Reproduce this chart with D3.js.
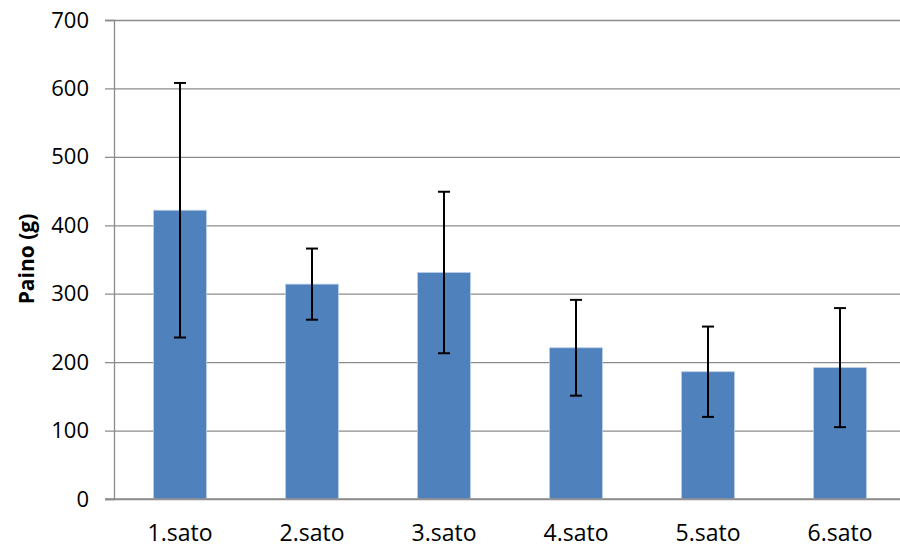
<!DOCTYPE html>
<html>
<head>
<meta charset="utf-8">
<script src="https://cdn.jsdelivr.net/npm/d3@7"></script>
<style>
  body { margin: 0; background: #fff; }
  svg text { font-family: "Open Sans", "Liberation Sans", sans-serif; fill: #000; }
</style>
</head>
<body>
<svg id="chart" width="900" height="548"></svg>
<script>
// data
const categories = ["1.sato", "2.sato", "3.sato", "4.sato", "5.sato", "6.sato"]
const means = [422, 314, 331, 221, 186, 192]
const errors = [186, 52, 118, 70, 66, 87]
const yTicks = [0, 100, 200, 300, 400, 500, 600, 700]

const margin = { left: 114, top: 20 }
const width = 792   // plot runs slightly past the right edge, like the original
const height = 479

const svg = d3.select('#chart')
const g = svg.append('g').attr('transform', 'translate(' + margin.left + ',' + margin.top + ')')

const x = d3.scaleBand().domain(categories).range([0, width]).paddingInner(0.6).paddingOuter(0.3)
const y = d3.scaleLinear().domain([0, 700]).range([height, 0])

// gridlines + y axis
const yAxis = d3.axisLeft(y).tickValues(yTicks).tickSize(9).tickPadding(16)
const yg = g.append('g').call(yAxis)
yg.select('.domain').attr('stroke', '#8c8c8c').attr('stroke-width', 1.3)
yg.selectAll('.tick line').attr('stroke', '#8c8c8c').attr('stroke-width', 1.3)
  .attr('x2', width).attr('x1', -9)
yg.selectAll('.tick text').attr('font-size', 22)

// bars
g.selectAll('rect.bar').data(means).enter().append('rect')
  .attr('class', 'bar')
  .attr('x', (d, i) => x(categories[i]))
  .attr('width', x.bandwidth())
  .attr('y', d => y(d))
  .attr('height', d => height - y(d))
  .attr('fill', '#4f81bd')
  .attr('stroke', '#b9cde5')
  .attr('stroke-width', 0.8)

// x axis line on top of bars
const xAxis = d3.axisBottom(x).tickSize(0).tickPadding(26)
const xg = g.append('g').attr('transform', 'translate(0,' + height + ')').call(xAxis)
xg.select('.domain').attr('stroke', '#8c8c8c').attr('stroke-width', 1.3)
  .attr('d', 'M-9,0H' + width)
xg.selectAll('.tick text').attr('font-size', 23)

// error bars
const eb = g.selectAll('g.err').data(means).enter().append('g').attr('class', 'err')
  .attr('transform', (d, i) => 'translate(' + (x(categories[i]) + x.bandwidth() / 2) + ',0)')
eb.append('line')
  .attr('y1', (d, i) => y(d + errors[i])).attr('y2', (d, i) => y(d - errors[i]))
  .attr('stroke', '#000').attr('stroke-width', 2)
eb.append('line')
  .attr('x1', -6).attr('x2', 6)
  .attr('y1', (d, i) => y(d + errors[i])).attr('y2', (d, i) => y(d + errors[i]))
  .attr('stroke', '#000').attr('stroke-width', 2)
eb.append('line')
  .attr('x1', -6).attr('x2', 6)
  .attr('y1', (d, i) => y(d - errors[i])).attr('y2', (d, i) => y(d - errors[i]))
  .attr('stroke', '#000').attr('stroke-width', 2)

// y title
svg.append('text')
  .attr('transform', 'translate(34,259) rotate(-90)')
  .attr('text-anchor', 'middle')
  .attr('font-size', 21)
  .attr('font-weight', 'bold')
  .text('Paino (g)')
</script>
</body>
</html>
